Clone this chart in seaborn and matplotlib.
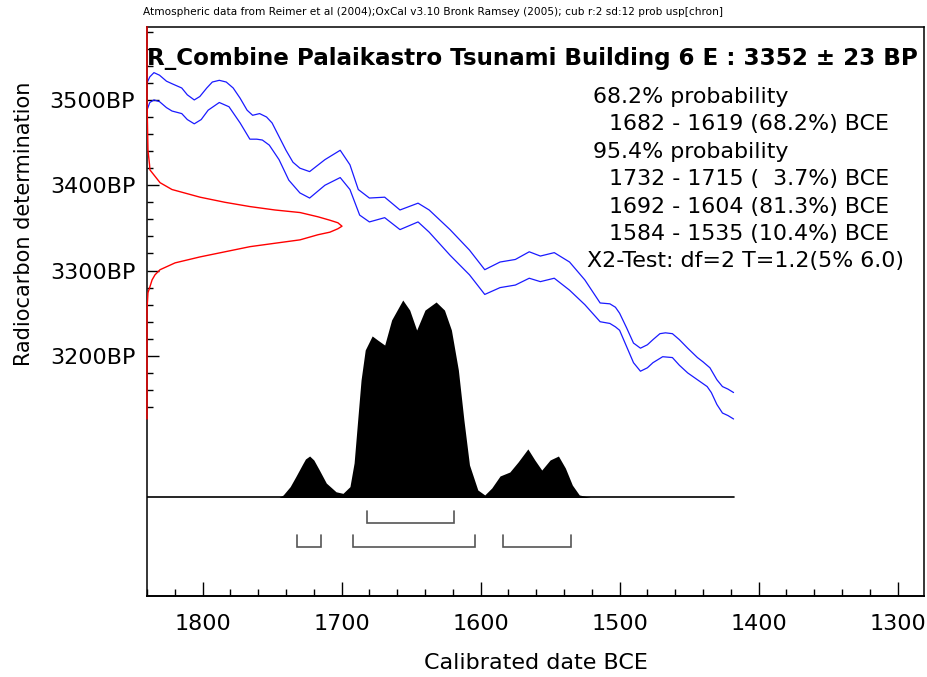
import numpy as np
import pandas as pd
import matplotlib
matplotlib.use("Agg")
import matplotlib.pyplot as plt
from matplotlib.ticker import FixedLocator
import seaborn as sns

# ---------------- data ----------------
# calibration curve, upper edge of the 1-sigma envelope (years BCE, BP)
upper_years = [1840, 1838, 1835, 1831, 1826, 1822, 1815, 1811, 1806, 1802, 1797, 1793,
               1788, 1783, 1778, 1773, 1768, 1764, 1759, 1754, 1750, 1745, 1740, 1735,
               1730, 1723, 1712, 1701, 1694, 1688, 1680, 1669, 1658, 1645, 1637, 1622,
               1608, 1597, 1586, 1575, 1565, 1557, 1547, 1536, 1525, 1514, 1507, 1503,
               1500, 1495, 1490, 1485, 1480, 1476, 1471, 1467, 1462, 1457, 1451, 1444,
               1440, 1435, 1430, 1426, 1422, 1418]
upper_bp = [3520, 3527, 3532, 3529, 3522, 3519, 3514, 3506, 3500, 3504, 3514, 3521,
            3523, 3521, 3514, 3502, 3488, 3482, 3484, 3480, 3473, 3457, 3441, 3427,
            3420, 3416, 3430, 3441, 3424, 3395, 3385, 3386, 3371, 3379, 3371, 3348,
            3324, 3301, 3310, 3313, 3322, 3317, 3321, 3310, 3289, 3262, 3261, 3257,
            3250, 3233, 3215, 3209, 3213, 3219, 3226, 3227, 3226, 3219, 3209, 3198,
            3193, 3186, 3172, 3164, 3161, 3157]
# lower edge of the 1-sigma envelope
lower_years = [1840, 1838, 1835, 1831, 1826, 1822, 1815, 1811, 1806, 1801, 1796, 1788,
               1781, 1773, 1766, 1761, 1757, 1752, 1745, 1738, 1730, 1723, 1712, 1701,
               1694, 1687, 1680, 1669, 1658, 1645, 1637, 1622, 1608, 1597, 1586, 1575,
               1565, 1557, 1547, 1536, 1525, 1514, 1507, 1503, 1500, 1495, 1490, 1485,
               1480, 1476, 1469, 1462, 1457, 1451, 1444, 1437, 1434, 1430, 1426, 1422, 1418]
lower_bp = [3488, 3497, 3500, 3498, 3491, 3487, 3484, 3477, 3472, 3477, 3488, 3497,
            3492, 3473, 3454, 3454, 3453, 3447, 3430, 3406, 3391, 3385, 3400, 3409,
            3395, 3365, 3357, 3362, 3348, 3357, 3345, 3318, 3295, 3272, 3280, 3283,
            3291, 3287, 3291, 3277, 3260, 3240, 3238, 3234, 3230, 3211, 3192, 3182,
            3186, 3192, 3199, 3198, 3189, 3180, 3172, 3164, 3157, 3143, 3133, 3130, 3126]

# radiocarbon measurement distribution (BP, relative probability)
rc_bp = [3586, 3500, 3441, 3424, 3418, 3403, 3395, 3386, 3380, 3375, 3371, 3368, 3363,
         3359, 3356, 3352, 3349, 3345, 3342, 3336, 3332, 3328, 3322, 3316, 3309, 3301,
         3295, 3289, 3281, 3274, 3254, 3126]
rc_prob = [0, 0, 0.005, 0.013, 0.015, 0.067, 0.128, 0.272, 0.40, 0.528, 0.656, 0.785, 0.877,
           0.938, 0.979, 1.0, 0.979, 0.938, 0.877, 0.785, 0.656, 0.528, 0.40, 0.272, 0.144, 0.067,
           0.041, 0.026, 0.015, 0.005, 0.0, 0]

# calibrated distribution (years BCE, relative probability)
cal_years = [1840, 1745, 1742, 1737, 1733, 1728, 1726, 1723, 1720, 1716, 1711, 1704,
             1699, 1694, 1691, 1688, 1686, 1683, 1678, 1674, 1669, 1664, 1656, 1651,
             1646, 1640, 1632, 1626, 1621, 1616, 1612, 1608, 1602, 1597, 1592, 1586,
             1579, 1573, 1566, 1561, 1556, 1550, 1544, 1539, 1534, 1529, 1521, 1418]
cal_prob = [0, 0, 0.013, 0.055, 0.105, 0.17, 0.195, 0.21, 0.19, 0.139, 0.073, 0.029,
            0.021, 0.055, 0.175, 0.428, 0.595, 0.747, 0.818, 0.797, 0.772, 0.899, 1.0, 0.949,
            0.848, 0.949, 0.99, 0.949, 0.848, 0.646, 0.392, 0.165, 0.038, 0.013, 0.048, 0.109,
            0.129, 0.18, 0.246, 0.19, 0.139, 0.19, 0.21, 0.149, 0.063, 0.013, 0, 0]

# highest probability ranges
ranges_68 = [(1682, 1619)]
ranges_95 = [(1732, 1715), (1692, 1604), (1584, 1535)]

x_major = [1800, 1700, 1600, 1500, 1400, 1300]
y_major = [3200, 3300, 3400, 3500]

title = "R_Combine Palaikastro Tsunami Building 6 E : 3352 \u00b1 23 BP"
subtitle = ("Atmospheric data from Reimer et al (2004);OxCal v3.10 Bronk Ramsey (2005); "
            "cub r:2 sd:12 prob usp[chron]")
info_lines = ["68.2% probability",
              "1682 - 1619 (68.2%) BCE",
              "95.4% probability",
              "1732 - 1715 (  3.7%) BCE",
              "1692 - 1604 (81.3%) BCE",
              "1584 - 1535 (10.4%) BCE",
              "X2-Test: df=2 T=1.2(5% 6.0)"]
info_x = [593, 609, 593, 609, 609, 609, 587]

# ---------------- figure ----------------
sns.set_theme(style="white")
plt.rcParams['font.family'] = ['DejaVu Sans']
plt.rcParams['text.color'] = 'black'
plt.rcParams['axes.labelcolor'] = 'black'
plt.rcParams['xtick.color'] = 'black'
plt.rcParams['ytick.color'] = 'black'

W, H = 928, 677
fig = plt.figure(figsize=(W / 100, H / 100), dpi=100)
L, R, T, B = 147, 924, 27, 596
ax = fig.add_axes([L / W, 1 - B / H, (R - L) / W, (B - T) / H])
ax.set_facecolor("white")

df_curve = pd.DataFrame({"year": upper_years + lower_years,
                         "bp": upper_bp + lower_bp,
                         "edge": ["upper"] * len(upper_years) + ["lower"] * len(lower_years)})
sns.lineplot(data=df_curve, x="year", y="bp", hue="edge", palette=["#1a1aff", "#1a1aff"],
             estimator=None, sort=False, linewidth=0.9, legend=False, ax=ax)

ax.set_xlim(1840, 1281)
ax.set_ylim(2918.5, 3585.5)

# ticks
ax.xaxis.set_major_locator(FixedLocator(x_major))
ax.xaxis.set_minor_locator(FixedLocator([v for v in range(1840, 1280, -20) if v not in x_major]))
ax.set_xticklabels([str(v) for v in x_major])
ax.yaxis.set_major_locator(FixedLocator(y_major))
ax.yaxis.set_minor_locator(FixedLocator([v for v in range(3140, 3590, 20) if v not in y_major]))
ax.set_yticklabels([f"{v}BP" for v in y_major])
ax.tick_params(axis="x", which="major", direction="in", length=10, width=1.0, pad=13,
               labelsize=16, colors="black", bottom=True)
ax.tick_params(axis="x", which="minor", direction="in", length=5, width=1.0, bottom=True)
ax.tick_params(axis="y", which="major", direction="in", length=8.5, width=1.0, pad=8.5,
               labelsize=16, colors="black", left=True)
ax.tick_params(axis="y", which="minor", direction="in", length=4.3, width=1.0, left=True)
for s in ax.spines.values():
    s.set_color("black")
    s.set_linewidth(1.1)
ax.spines["bottom"].set_linewidth(1.4)

ax.set_xlabel("Calibrated date BCE", fontsize=16)
ax.set_ylabel("Radiocarbon determination", fontsize=15)
ax.yaxis.set_label_coords((34 - L) / (R - L), (B - 224) / (B - T))
ax.xaxis.set_label_coords(0.5, (B - 653) / (B - T))

# calibrated distribution on its own probability scale
ax2 = ax.twinx()
base_frac = (B - 497.5) / (B - T)
peak_frac = (B - 300) / (B - T)
unit = peak_frac - base_frac
ax2.set_ylim(-base_frac / unit, (1 - base_frac) / unit)
ax2.set_yticks([])
for s in ax2.spines.values():
    s.set_visible(False)
ax2.fill_between(cal_years, 0, cal_prob, color="black", linewidth=0)
ax2.plot([upper_years[0], upper_years[-1]], [0, 0], color="black", linewidth=1.2)


def pfrac(ypx):
    return ((B - ypx) / (B - T) - base_frac) / unit


for level, rngs in ((0, ranges_68), (1, ranges_95)):
    top = pfrac(511 + 24 * level)
    bot = pfrac(523 + 24 * level)
    for a, b in rngs:
        ax2.plot([a, a, b, b], [top, bot, bot, top], color="#555555", linewidth=1.2,
                 solid_joinstyle="miter")

# radiocarbon measurement distribution along the y axis
ax3 = ax.twiny()
ax3.set_xlim(0, (R - L) / (342 - L))
ax3.set_xticks([])
for s in ax3.spines.values():
    s.set_visible(False)
df_rc = pd.DataFrame({"prob": rc_prob, "bp": rc_bp})
sns.lineplot(data=df_rc, x="prob", y="bp", estimator=None, sort=False, color="#ff0000",
             linewidth=1.0, ax=ax3, zorder=5)
for ln in ax3.get_lines():
    ln.set_clip_on(False)
ax3.set_ylim(ax.get_ylim())
ax3.set_xlabel("")
ax3.set_ylabel("")

# texts
fig.text(143 / W, 1 - 12 / H, subtitle, fontsize=7.6, ha="left", va="center")
fig.text(147 / W, 1 - 58 / H, title, fontsize=16.6, fontweight="bold", ha="left", va="center")
for i, (line, xp) in enumerate(zip(info_lines, info_x)):
    fig.text(xp / W, 1 - (97 + 27.4 * i) / H, line, fontsize=15.9,
             ha="left", va="center")

fig.savefig("out.png", dpi=100)
